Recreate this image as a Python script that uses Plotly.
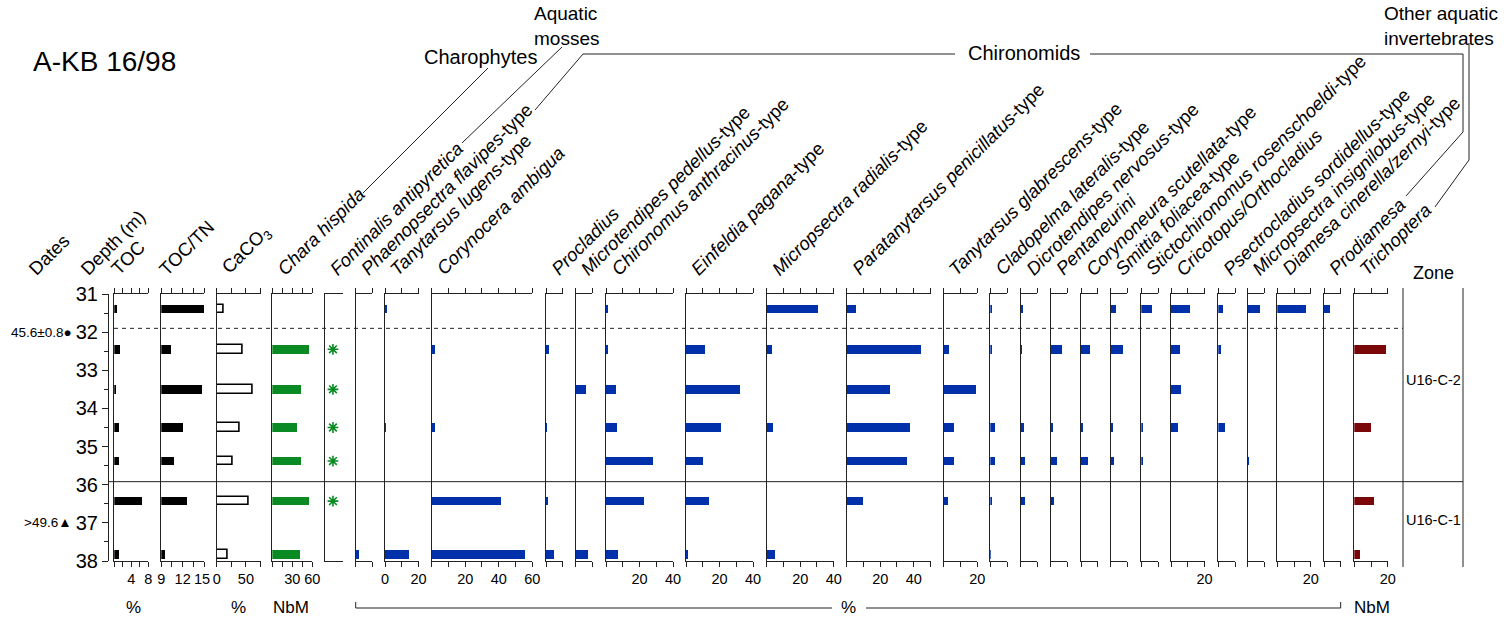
import plotly.graph_objects as go

W, H = 1504, 619
AX = "#222222"
FONT = "Arial, Liberation Sans, sans-serif"

# ---- data -------------------------------------------------------------
depths = [31.40, 32.45, 33.50, 34.50, 35.38, 36.43, 37.83]

toc = [0.8, 1.5, 0.5, 1.2, 1.2, 6.6, 1.1]
toc_tn = [15.0, 10.4, 14.7, 12.1, 10.8, 12.6, 9.5]
caco3 = [12.5, 44, 61, 39, 27, 54, 19]
chara_hispida = [0, 56, 44, 38, 44, 56, 42]
fontinalis_present = [0, 1, 1, 1, 1, 1, 0]

phaenopsectra = [0, 0, 0, 0, 0, 0, 2.0]
tanytarsus_lugens = [1.2, 0, 0, 0.5, 0, 0, 14.3]
corynocera = [0, 1.6, 0, 1.6, 0, 41.0, 55.3]
procladius = [0, 1.6, 0, 0.5, 0, 0.8, 5.0]
microtendipes = [0, 0, 6.2, 0, 0, 0, 7.0]
chironomus = [1.0, 1.2, 6.2, 6.8, 27.9, 22.7, 7.2]
einfeldia = [0, 11.3, 32.4, 20.9, 10.0, 13.9, 0.8]
micropsectra_radialis = [30.6, 2.8, 0, 3.6, 0, 0, 4.6]
paratanytarsus = [5.4, 44.2, 25.5, 37.4, 35.8, 9.6, 0]
tanytarsus_glabrescens = [0, 2.8, 18.9, 6.2, 6.2, 2.4, 0]
cladopelma = [1.2, 1.4, 0, 2.8, 3.2, 1.4, 0.6]
dicrotendipes = [1.2, 0.6, 0, 1.6, 2.4, 2.4, 0]
pentaneurini = [0, 6.6, 0, 1.4, 3.6, 2.0, 0]
corynoneura = [0, 5.4, 0, 0.8, 4.2, 0, 0]
smittia = [2.8, 7.2, 0, 1.2, 1.6, 0, 0]
stictochironomus = [6.6, 0, 0, 1.2, 0.8, 0, 0]
cricotopus = [11.4, 5.4, 6.2, 4.0, 0, 0, 0]
psectrocladius = [3.2, 2.0, 0, 4.2, 0, 0, 0]
micropsectra_insignilobus = [7.4, 0, 0, 0, 0.6, 0, 0]
diamesa = [17.6, 0, 0, 0, 0, 0, 0]
prodiamesa = [3.6, 0, 0, 0, 0, 0, 0]
trichoptera = [0, 19.0, 0, 10.4, 0, 12.0, 3.6]

date_labels = ["45.6±0.8●", ">49.6▲"]
date_depths = [32.0, 37.0]
zone_names = ["U16-C-2", "U16-C-1"]
zone_label_depths = [33.26, 36.93]
zone_boundary = 35.92
hiatus_depth = 31.9
depth_ticks = [31, 38]


def X(px):
    return px / W


def Y(py):
    return 1 - py / H


GREEN = "#0A8A22"
BLUE = "#0030AA"
RED = "#7A0808"

# (header, values, left px, right px, range, tickvals, ticktext, style)
columns = [
    ("TOC", toc, 114.3, 148.3, [0, 8], [0, 2, 4, 6, 8], ["", "", "4", "", "8"], "black"),
    ("TOC/TN", toc_tn, 161.3, 204.0, [9, 15], [9, 10.5, 12, 13.5, 15], ["9", "", "12", "", "15\u00a0"], "black"),
    ("CaCO<sub>3</sub>", caco3, 216.7, 260.5, [0, 75], [0, 25, 50, 75], ["0", "", "50", ""], "hollow"),
    ("<i>Chara hispida</i>", chara_hispida, 272.3, 312.3, [0, 60], [0, 15, 30, 45, 60], ["", "", "30", "", "60"], "green"),
    ("<i>Fontinalis antipyretica</i>", fontinalis_present, 325.0, 342.7, [0, 10], [], [], "star"),
    ("<i>Phaenopsectra flavipes</i>-type", phaenopsectra, 355.7, 372.4, [0, 10], [0, 10], ["", ""], "blue"),
    ("<i>Tanytarsus lugens</i>-type", tanytarsus_lugens, 385.0, 418.5, [0, 20], [0, 10, 20], ["0", "", "20"], "blue"),
    ("<i>Corynocera ambigua</i>", corynocera, 431.7, 532.2, [0, 60], [0, 10, 20, 30, 40, 50, 60], ["", "", "20", "", "40", "", "60"], "blue"),
    ("<i>Procladius</i>", procladius, 546.0, 562.8, [0, 10], [0, 10], ["", ""], "blue"),
    ("<i>Microtendipes pedellus</i>-type", microtendipes, 575.7, 592.4, [0, 10], [0, 10], ["", ""], "blue"),
    ("<i>Chironomus anthracinus</i>-type", chironomus, 606.0, 673.0, [0, 40], [0, 10, 20, 30, 40], ["", "", "20", "", "40"], "blue"),
    ("<i>Einfeldia pagana</i>-type", einfeldia, 686.0, 753.0, [0, 40], [0, 10, 20, 30, 40], ["", "", "20", "", "40"], "blue"),
    ("<i>Micropsectra radialis</i>-type", micropsectra_radialis, 766.7, 833.7, [0, 40], [0, 10, 20, 30, 40], ["", "", "20", "", "40"], "blue"),
    ("<i>Paratanytarsus penicillatus</i>-type", paratanytarsus, 846.7, 930.5, [0, 50], [0, 10, 20, 30, 40, 50], ["", "", "20", "", "40", ""], "blue"),
    ("<i>Tanytarsus glabrescens</i>-type", tanytarsus_glabrescens, 943.7, 977.2, [0, 20], [0, 10, 20], ["", "", "20"], "blue"),
    ("<i>Cladopelma lateralis</i>-type", cladopelma, 990.3, 1007.0, [0, 10], [0, 10], ["", ""], "blue"),
    ("<i>Dicrotendipes nervosus</i>-type", dicrotendipes, 1020.7, 1037.4, [0, 10], [0, 10], ["", ""], "blue"),
    ("<i>Pentaneurini</i>", pentaneurini, 1050.7, 1067.4, [0, 10], [0, 10], ["", ""], "blue"),
    ("<i>Corynoneura scutellata</i>-type", corynoneura, 1081.0, 1097.7, [0, 10], [0, 10], ["", ""], "blue"),
    ("<i>Smittia foliacea</i>-type", smittia, 1110.7, 1127.4, [0, 10], [0, 10], ["", ""], "blue"),
    ("<i>Stictochironomus rosenschoeldi</i>-type", stictochironomus, 1141.3, 1158.0, [0, 10], [0, 10], ["", ""], "blue"),
    ("<i>Cricotopus/Orthocladius</i>", cricotopus, 1171.0, 1204.5, [0, 20], [0, 10, 20], ["", "", "20"], "blue"),
    ("<i>Psectrocladius sordidellus</i>-type", psectrocladius, 1218.3, 1235.0, [0, 10], [0, 10], ["", ""], "blue"),
    ("<i>Micropsectra insignilobus</i>-type", micropsectra_insignilobus, 1247.7, 1264.4, [0, 10], [0, 10], ["", ""], "blue"),
    ("<i>Diamesa cinerella/zernyi</i>-type", diamesa, 1277.3, 1310.8, [0, 20], [0, 10, 20], ["", "", "20"], "blue"),
    ("<i>Prodiamesa</i>", prodiamesa, 1324.0, 1340.7, [0, 10], [0, 10], ["", ""], "blue"),
    ("<i>Trichoptera</i>", trichoptera, 1354.3, 1387.7, [0, 20], [0, 10, 20], ["", "", "20"], "red"),
]

# horizontal shift of each rotated header relative to its column's left edge
header_shift = {"TOC": -10, "TOC/TN": -9}

fig = go.Figure()
ydom = [Y(561), Y(294)]

layout = dict(
    width=W, height=H,
    margin=dict(l=0, r=0, t=0, b=0, pad=0, autoexpand=False),
    paper_bgcolor="white", plot_bgcolor="rgba(0,0,0,0)",
    showlegend=False,
    font=dict(family=FONT, color="black"),
    bargap=0,
)

# depth axis
fig.add_trace(go.Scatter(x=[None], y=[None], xaxis="x", yaxis="y", hoverinfo="skip"))
layout["xaxis"] = dict(domain=[0, 0.005], visible=False, automargin=False)
layout["yaxis"] = dict(
    domain=ydom, range=[depth_ticks[1], depth_ticks[0]], anchor="free", position=X(108),
    showline=True, linecolor=AX, linewidth=1, ticks="outside", ticklen=6, tickcolor=AX,
    tick0=depth_ticks[0], dtick=1, tickfont=dict(size=20),
    minor=dict(dtick=0.5, ticks="outside", ticklen=4, tickcolor=AX, showgrid=False),
    showgrid=False, zeroline=False, fixedrange=True, automargin=False,
)

annotations = []
shapes = []


def note(txt, xp, yp, size, xanchor="center", yanchor="middle", **kw):
    annotations.append(dict(x=X(xp), y=Y(yp), xref="paper", yref="paper", text=txt,
                            showarrow=False, xanchor=xanchor, yanchor=yanchor,
                            font=dict(size=size), **kw))


HEADER_Y = 282

for i, (label, vals, lpx, rpx, rng, tv, tt, style) in enumerate(columns):
    k = i + 2
    xa, ya = f"x{k}", f"y{k}"
    is_star = style == "star"
    layout[f"xaxis{k}"] = dict(
        domain=[X(lpx), X(rpx)], range=rng, anchor=ya,
        showline=True, linecolor=AX, linewidth=1,
        mirror=True if is_star else "ticks",
        ticks="" if is_star else "outside", ticklen=5, tickcolor=AX,
        tickmode="array", tickvals=tv, ticktext=tt, tickfont=dict(size=14.5),
        showgrid=False, zeroline=False, fixedrange=True, automargin=False,
    )
    layout[f"yaxis{k}"] = dict(
        domain=ydom, range=[depth_ticks[1], depth_ticks[0]], anchor=xa,
        showline=True, linecolor=AX, linewidth=1, ticks="", showticklabels=False,
        showgrid=False, zeroline=False, fixedrange=True, automargin=False,
    )
    keep = [j for j, v in enumerate(vals) if v > 0]
    yy = [depths[j] for j in keep]
    xx = [vals[j] for j in keep]
    if is_star:
        fig.add_trace(go.Scatter(
            x=[4.5] * len(yy), y=yy, mode="markers", xaxis=xa, yaxis=ya,
            marker=dict(symbol="asterisk-open", size=9, color=GREEN,
                        line=dict(color=GREEN, width=1.6)),
            hoverinfo="skip",
        ))
    else:
        if style == "hollow":
            marker = dict(color="white", line=dict(color="black", width=1.6))
        else:
            c = {"black": "black", "green": GREEN, "blue": BLUE, "red": RED}[style]
            marker = dict(color=c, line=dict(width=0))
        fig.add_trace(go.Bar(
            x=xx, y=yy, orientation="h", width=0.22, marker=marker,
            xaxis=xa, yaxis=ya, hoverinfo="skip",
        ))
    # rotated column header
    note(label, lpx + header_shift.get(label, -2), HEADER_Y, 18.5,
         xanchor="left", yanchor="bottom", textangle=-45)

# left-hand headers
for txt, spx in [("Dates", 30), ("Depth (m)", 82)]:
    note(txt, spx - 8, HEADER_Y, 18.5, xanchor="left", yanchor="bottom", textangle=-45)

note("Zone", 1433, 273, 18)

# title
note("A-KB 16/98", 31, 62, 28, xanchor="left")

# group headings
note("Charophytes", 480, 57, 20)
note("Aquatic<br>mosses", 532, 26, 19, xanchor="left", align="left")
note("Chironomids", 1024, 53, 20)
note("Other aquatic<br>invertebrates", 1382, 26, 19, xanchor="left", align="left")

# dates
for txt, d in zip(date_labels, date_depths):
    annotations.append(dict(x=X(74), y=d, xref="paper", yref="y", text=txt,
                            showarrow=False, xanchor="right", yanchor="middle",
                            font=dict(size=13.5)))

# zones
for txt, d in zip(zone_names, zone_label_depths):
    annotations.append(dict(x=X(1433), y=d, xref="paper", yref="y", text=txt,
                            showarrow=False, xanchor="center", yanchor="middle",
                            font=dict(size=14.5)))

# units under the columns
for txt, xp in [("%", 133), ("%", 239), ("NbM", 291), ("%", 848), ("NbM", 1372)]:
    note(txt, xp, 607, 17)


def poly(points, dash="solid", width=1):
    path = "M " + " L ".join(f"{X(a):.5f},{Y(b):.5f}" for a, b in points)
    shapes.append(dict(type="path", path=path, xref="paper", yref="paper",
                       line=dict(color=AX, width=width, dash=dash)))


# leader lines to group headings
poly([(363, 193), (488, 68)])
poly([(462, 143), (562, 47)])
poly([(535, 110), (583, 54), (955, 54)])
poly([(1090, 54), (1463, 54), (1463, 132), (1406, 196)])
poly([(1469, 43), (1469, 160), (1435, 207)])

# bracket under the percentage columns
poly([(355.7, 602), (355.7, 608), (832, 608)])
poly([(866, 608), (1340.7, 608), (1340.7, 602)])

# zone column frame
poly([(1403, 288), (1403, 567)])
poly([(1463, 288), (1463, 567)])

# horizontal boundaries across the diagram
shapes.append(dict(type="line", xref="paper", yref="y", x0=X(114), x1=X(1403),
                   y0=hiatus_depth, y1=hiatus_depth, line=dict(color=AX, width=1, dash="4px,4px")))
shapes.append(dict(type="line", xref="paper", yref="y", x0=X(108), x1=X(1463),
                   y0=zone_boundary, y1=zone_boundary, line=dict(color=AX, width=1)))

layout["annotations"] = annotations
layout["shapes"] = shapes
fig.update_layout(**layout)
fig.write_html("out.html")
